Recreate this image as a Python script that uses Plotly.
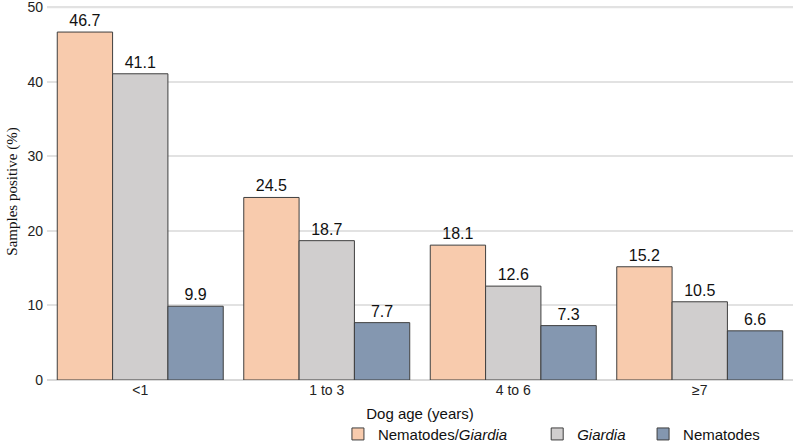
import plotly.graph_objects as go

# Data
AGE_GROUPS = ['<1', '1 to 3', '4 to 6', '≥7']
NEMATODES_GIARDIA = [46.7, 24.5, 18.1, 15.2]
GIARDIA = [41.1, 18.7, 12.6, 10.5]
NEMATODES = [9.9, 7.7, 7.3, 6.6]
Y_TICKS = [0, 10, 20, 30, 40, 50]

COLORS = {
    'peach': '#F8CBAD',
    'grey': '#D0CECE',
    'blue': '#8497B0',
    'outline': '#3F3F3F',
    'grid': '#E2E2E2',
}

NBSP = '\u00a0'
# trailing non-breaking spaces widen the legend gaps like in the original
series = [
    ('Nematodes/<i>Giardia</i>' + NBSP * 6, NEMATODES_GIARDIA, COLORS['peach']),
    ('<i>Giardia</i>' + NBSP * 3, GIARDIA, COLORS['grey']),
    ('Nematodes', NEMATODES, COLORS['blue']),
]

fig = go.Figure()
for name, values, color in series:
    fig.add_trace(go.Bar(
        x=AGE_GROUPS,
        y=values,
        name=name,
        marker=dict(color=color, line=dict(color=COLORS['outline'], width=1)),
        text=[f'{v:.1f}' for v in values],
        textposition='outside',
        textfont=dict(family='Arial, Liberation Sans', size=16, color='#111111'),
        cliponaxis=False,
    ))

# top gridline sits right at the plot edge, plotly drops it, so draw it
fig.add_hline(y=max(Y_TICKS), line=dict(color=COLORS['grid'], width=1.5), layer='below')

fig.update_layout(
    width=796,
    height=446,
    barmode='group',
    bargap=0.11,
    bargroupgap=0,
    paper_bgcolor='white',
    plot_bgcolor='white',
    margin=dict(l=47, r=3, t=3, b=66, autoexpand=False),
    font=dict(family='Arial, Liberation Sans', size=14, color='#222222'),
    legend=dict(
        orientation='h',
        x=0.39, xanchor='left',
        y=-0.1, yanchor='top',
        font=dict(size=15, color='#111111'),
        itemwidth=30,
        tracegroupgap=0,
    ),
    xaxis=dict(
        range=[-0.5, 3.5],
        showgrid=False,
        showline=False,
        ticks='',
        automargin=False,
        tickfont=dict(size=14),
        title=dict(text='Dog age (years)', font=dict(size=15, color='#111111'), standoff=11),
    ),
    yaxis=dict(
        range=[0, 50.6],
        tickvals=Y_TICKS,
        ticklabeloverflow='allow',
        ticklabelstandoff=3,
        showgrid=True,
        gridcolor=COLORS['grid'],
        gridwidth=1.5,
        zeroline=True,
        zerolinecolor='#D9D9D9',
        zerolinewidth=1.5,
        showline=False,
        ticks='',
        automargin=False,
        tickfont=dict(size=14),
        title=dict(text='Samples positive (%)',
                   font=dict(family='Times New Roman, Liberation Serif', size=15, color='#111111'),
                   standoff=6),
    ),
)

# drop the default 8px page margin so the figure sits at the window corner
fig.write_html("out.html", config={'displayModeBar': False},
               post_script="document.body.style.margin='0';")
